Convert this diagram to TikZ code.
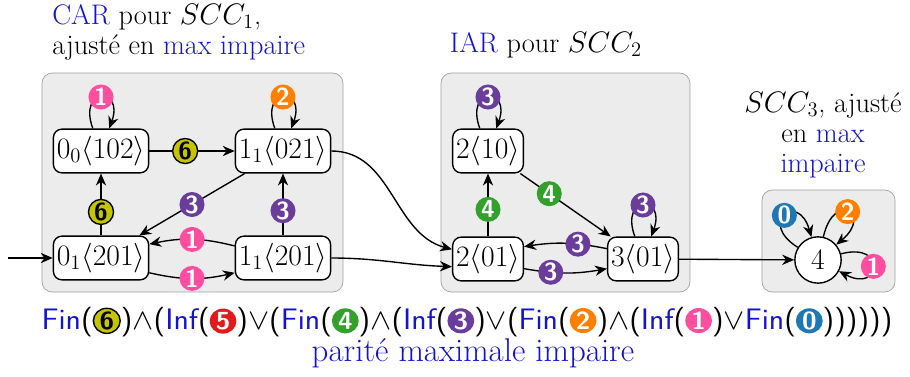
\documentclass[tikz,border=0pt]{standalone}
\usepackage{amsmath, amssymb}
\usepackage{tikz}
\usetikzlibrary{arrows.meta,positioning}
\definecolor{acczero}{HTML}{1F78B4}
\definecolor{accone}{HTML}{FF4DA0}
\definecolor{acctwo}{HTML}{FF7F00}
\definecolor{accthree}{HTML}{6A3D9A}
\definecolor{accfour}{HTML}{33A02C}
\definecolor{accfive}{HTML}{E31A1C}
\definecolor{accsix}{HTML}{C4C400}
\definecolor{capblue}{RGB}{20,20,205}
\newcommand{\bl}[1]{\textcolor{capblue}{#1}}
\newcommand{\capfont}{\fontsize{16.5}{17.5}\selectfont}
\newcommand{\accin}[2]{\tikz[baseline=(b.base)]\node[#1](b){#2};}
\tikzset{
  sccbox/.style={draw=gray!75, fill=gray!15, rounded corners=6pt},
  state/.style={draw, thick, fill=white, rounded corners=5pt, inner sep=2pt, minimum height=25.5pt, font=\fontsize{18.7}{22}\selectfont},
  sink/.style={draw, thick, fill=white, circle, inner sep=0pt, minimum size=27pt, font=\fontsize{18.7}{22}\selectfont},
  acc/.style={circle, inner sep=0pt, minimum size=14.6pt, font=\Large\sffamily\bfseries, text=white},
  acc0/.style={acc, fill=acczero},
  acc1/.style={acc, fill=accone},
  acc2/.style={acc, fill=acctwo},
  acc3/.style={acc, fill=accthree},
  acc4/.style={acc, fill=accfour},
  acc5/.style={acc, fill=accfive},
  acc6/.style={acc, fill=accsix, draw=black, thick, text=black},
  trans/.style={->, thick},
  selfloop/.style={loop, out=110, in=70, min distance=26pt},
}
\begin{document}
\begin{tikzpicture}[x=0.583pt, y=0.583pt, >={Stealth[length=7pt,width=6pt]}]
  \useasboundingbox (0,0) rectangle (910,376);
  % the three SCC boxes
  \draw[sccbox] (42,84) rectangle (343,303);
  \draw[sccbox] (441,84) rectangle (690,303);
  \draw[sccbox] (762,84) rectangle (895,186);
  % captions
  \node[anchor=west, align=left, inner sep=0pt, font=\capfont] (capA) at (52,344) {\bl{CAR} pour $SCC_1$,\\ ajusté en \bl{max impaire}};
  \node[inner sep=0pt, font=\capfont] (capB) at (546,331) {\bl{IAR} pour $SCC_2$};
  \node[align=center, inner sep=0pt, font=\capfont] (capC) at (823,241) {$SCC_3$, ajusté\\ en \bl{max}\\ \bl{impaire}};
  % states
  \node[state] (q00) at (101,225) {$0_0\langle 102\rangle$};
  \node[state] (q11a) at (283,225) {$1_1\langle 021\rangle$};
  \node[state] (q01) at (101,118) {$0_1\langle 201\rangle$};
  \node[state] (q11b) at (283,118) {$1_1\langle 201\rangle$};
  \node[state] (r210) at (488,225) {$2\langle 10\rangle$};
  \node[state] (r201) at (488,117) {$2\langle 01\rangle$};
  \node[state] (r301) at (643,117) {$3\langle 01\rangle$};
  \node[sink] (s4) at (818,116) {$4$};
  \coordinate (init) at (8,118);
  % SCC 1
  \draw[trans] (init) -- (q01);
  \draw[trans] (q00) to[selfloop] node[acc1] (b1) {1} (q00);
  \draw[trans] (q00) -- node[acc6, pos=0.42] (b2) {6} (q11a);
  \draw[trans] (q11a) to[selfloop] node[acc2] (b3) {2} (q11a);
  \draw[trans] (q01) -- node[acc6, pos=0.38] (b4) {6} (q00);
  \draw[trans] (q11a) -- node[acc3] (b5) {3} (q01);
  \draw[trans] (q11b) -- node[acc3, pos=0.4] (b6) {3} (q11a);
  \draw[trans] (q11b.166) to[bend right=13] node[acc1] (b7) {1} (q01.16);
  \draw[trans] (q01.-17) to[bend right=13] node[acc1] (b8) {1} (q11b.197);
  % between SCCs
  \draw[trans] (q11a.east) to[out=0, in=165] (r201.165);
  \draw[trans] (q11b.east) to[out=0, in=178] (r201.-168);
  % SCC 2
  \draw[trans] (r210) to[selfloop] node[acc3] (b9) {3} (r210);
  \draw[trans] (r201) -- node[acc4, pos=0.43] (b10) {4} (r210);
  \draw[trans] (r210) -- node[acc4, pos=0.32] (b11) {4} (r301);
  \draw[trans] (r301) to[selfloop] node[acc3] (b12) {3} (r301);
  \draw[trans] (r301.164) to[bend right=10] node[acc3, pos=0.34] (b13) {3} (r201.19);
  \draw[trans] (r201.-15) to[bend right=10] node[acc3, pos=0.31] (b14) {3} (r301.195);
  \draw[trans] (r301) -- (s4);
  % SCC 3
  \draw[trans] (s4) to[loop, out=148, in=106, min distance=28pt] node[acc0] (b15) {0} (s4);
  \draw[trans] (s4) to[loop, out=77, in=40, min distance=28pt] node[acc2] (b16) {2} (s4);
  \draw[trans] (s4) to[loop, out=15, in=-28, min distance=28pt] node[acc1] (b17) {1} (s4);
  % acceptance condition
  \node[inner sep=0pt] (cond) at (467,54) {\resizebox{496pt}{\height}{\LARGE\sffamily
    \bl{Fin}(\accin{acc6}{6})$\wedge$(\bl{Inf}(\accin{acc5}{5})$\vee$(\bl{Fin}(\accin{acc4}{4})$\wedge$(\bl{Inf}(\accin{acc3}{3})$\vee$(\bl{Fin}(\accin{acc2}{2})$\wedge$(\bl{Inf}(\accin{acc1}{1})$\vee$\bl{Fin}(\accin{acc0}{0}))))))}};
  \node[inner sep=0pt, font=\fontsize{19.2}{21}\selectfont, text=capblue] (parity) at (473,23) {parité maximale impaire};
\end{tikzpicture}
\end{document}
